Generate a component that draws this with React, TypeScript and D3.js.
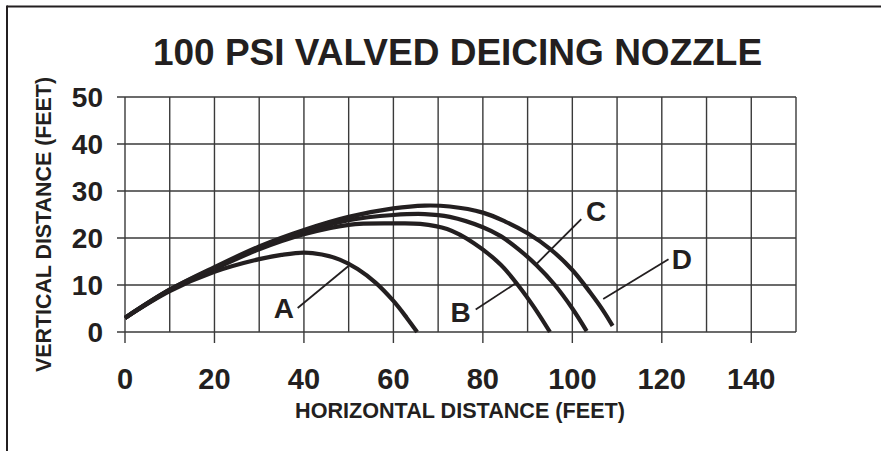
import * as d3 from "d3";

// nozzle trajectory curves (feet)
const curveA: [number, number][] = [
  [0, 3], [10, 8.7], [20, 12.8], [30, 15.5], [35, 16.4], [40, 16.9],
  [44, 16.5], [48, 15.4], [52, 13.4], [56, 10.5], [60, 6.6], [63, 3.0], [65.3, 0],
];
const curveB: [number, number][] = [
  [0, 3], [10, 8.9], [20, 13.4], [30, 17.6], [40, 20.8], [50, 22.8],
  [60, 23.1], [66, 23.0], [72, 21.9], [78, 18.9], [84, 14.3], [88, 9.8],
  [91.5, 5.2], [95, 0],
];
const curveC: [number, number][] = [
  [0, 3], [10, 9], [20, 13.6], [30, 17.9], [40, 21.3], [50, 23.8],
  [60, 24.9], [67, 25.1], [72.6, 24.5], [80, 22.3], [84, 20.4],
  [88, 17.6], [92, 14.2], [96, 10.1], [100, 5.0], [103.2, 0.2],
];
const curveD: [number, number][] = [
  [0, 3], [10, 9], [20, 13.8], [30, 18.2], [40, 21.7], [50, 24.5],
  [60, 26.3], [67, 26.9], [72.6, 26.7], [80, 25.4], [85, 23.5],
  [90, 21.0], [95, 17.7], [100, 13.2], [104, 8.4], [107, 4.4], [109, 1.3],
];
const curves = [curveA, curveB, curveC, curveD];

// callout letters: label position and leader line, in data units
const labelNames = ["A", "B", "C", "D"];
const labelAt: [number, number][] = [[35.5, 3.0], [75.0, 2.2], [105.3, 23.7], [124.5, 13.4]];
const leaderFrom: [number, number][] = [[38.6, 5.1], [78.4, 4.8], [102.0, 24.0], [121.5, 15.5]];
const leaderTo: [number, number][] = [[49.9, 14.0], [87.4, 10.4], [91.9, 14.4], [106.9, 7.0]];

const xTicks = [0, 20, 40, 60, 80, 100, 120, 140];
const xGrid = d3.range(0, 151, 10);
const yTicks = [0, 10, 20, 30, 40, 50];

const title = "100 PSI VALVED DEICING NOZZLE";
const xTitle = "HORIZONTAL DISTANCE (FEET)";
const yTitle = "VERTICAL DISTANCE (FEET)";

const width = 881;
const height = 451;
const ink = "#231f20";
const gridCol = "#3a3a3a";
const font = "'Liberation Sans', Arial, Helvetica, sans-serif";

export default function App() {
  const x = d3.scaleLinear([0, 150], [125, 796]);
  const y = d3.scaleLinear([0, 50], [332, 97]);

  const line = d3
    .line<[number, number]>()
    .x((d) => x(d[0]))
    .y((d) => y(d[1]))
    .curve(d3.curveCatmullRom.alpha(0.5));

  return (
    <svg
      width={width}
      height={height}
      style={{ position: "absolute", left: 0, top: 0, background: "#fff" }}
      fontFamily={font}
    >
      {/* frame */}
      <line x1={7} x2={width} y1={6.5} y2={6.5} stroke={ink} strokeWidth={2} />
      <line x1={7} x2={7} y1={5.5} y2={height} stroke={ink} strokeWidth={2} />

      <text x={457.5} y={65} textAnchor="middle" fontSize={37} fontWeight="bold" fill={ink}>
        {title}
      </text>

      {/* grid */}
      <g stroke={gridCol} strokeWidth={1.4}>
        {yTicks.map((t) => (
          <line key={"h" + t} x1={117} x2={x(150)} y1={y(t)} y2={y(t)} />
        ))}
        {xGrid.map((t) => (
          <line
            key={"v" + t}
            x1={x(t)}
            x2={x(t)}
            y1={y(50)}
            y2={xTicks.includes(t) ? y(0) + 11 : y(0)}
          />
        ))}
      </g>

      {/* tick labels */}
      <g fontSize={28} fontWeight="bold" fill={ink}>
        {yTicks.map((t) => (
          <text key={t} x={103} y={y(t)} dy="0.36em" textAnchor="end">
            {t}
          </text>
        ))}
      </g>
      <g fontSize={29} fontWeight="bold" fill={ink}>
        {xTicks.map((t) => (
          <text key={t} x={x(t)} y={389} textAnchor="middle">
            {t}
          </text>
        ))}
      </g>

      <text x={460} y={418} textAnchor="middle" fontSize={21.6} fontWeight="bold" fill={ink}>
        {xTitle}
      </text>
      <text
        transform="translate(51,224.5) rotate(-90)"
        textAnchor="middle"
        fontSize={21.4}
        fontWeight="bold"
        fill={ink}
      >
        {yTitle}
      </text>

      {/* trajectories */}
      <g fill="none" stroke={ink} strokeWidth={4.2}>
        {curves.map((c, i) => (
          <path key={i} d={line(c) as string} />
        ))}
      </g>

      {/* callouts */}
      <g stroke={ink} strokeWidth={1.8}>
        {labelNames.map((n, i) => (
          <line
            key={n}
            x1={x(leaderFrom[i][0])}
            y1={y(leaderFrom[i][1])}
            x2={x(leaderTo[i][0])}
            y2={y(leaderTo[i][1])}
          />
        ))}
      </g>
      <g fontSize={28} fontWeight="bold" fill={ink} textAnchor="middle">
        {labelNames.map((n, i) => (
          <text key={n} x={x(labelAt[i][0])} y={y(labelAt[i][1])}>
            {n}
          </text>
        ))}
      </g>
    </svg>
  );
}
